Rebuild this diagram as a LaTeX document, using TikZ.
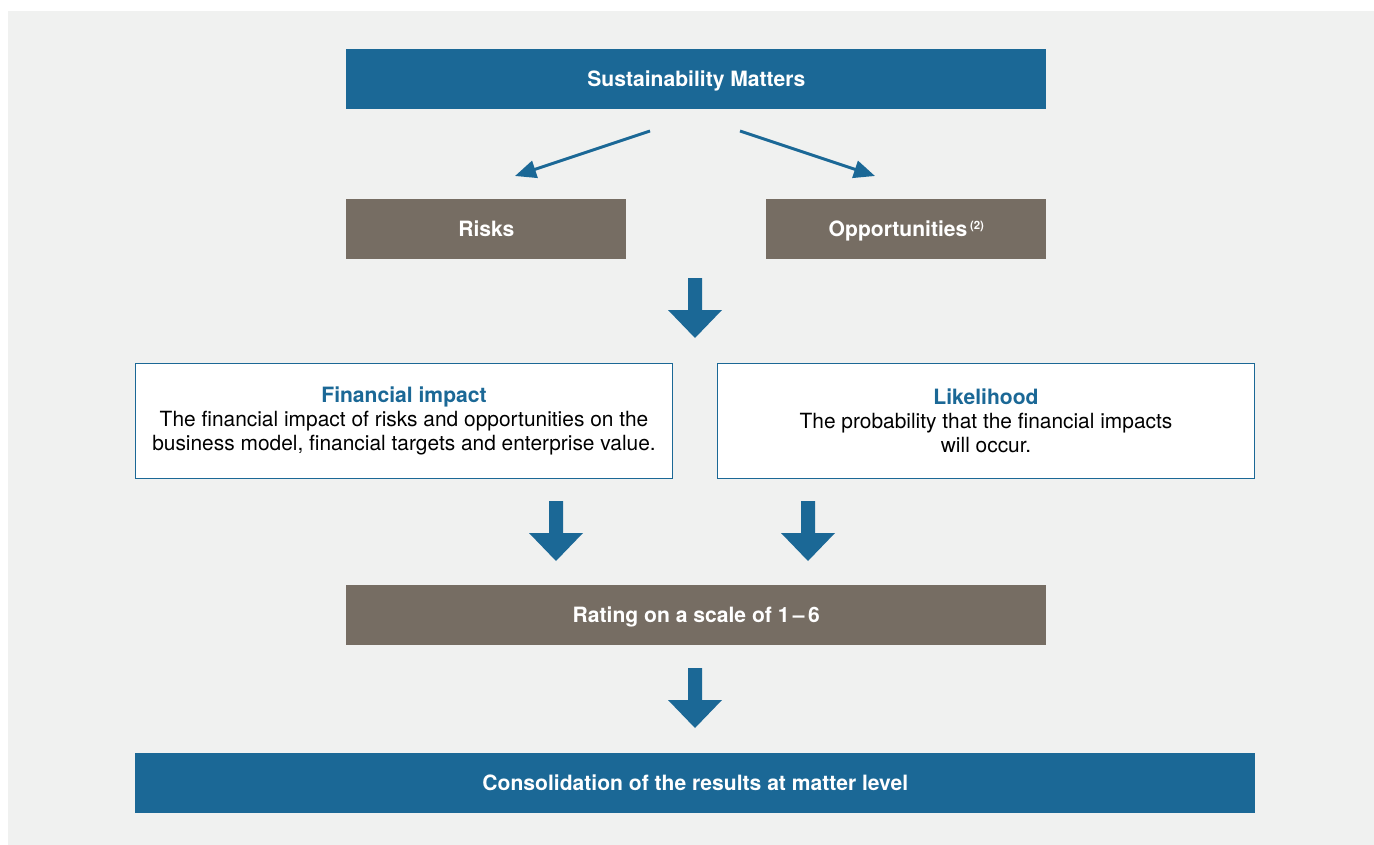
\documentclass[tikz,border=0pt]{standalone}
\usepackage{fontspec}
\setmainfont{TeX Gyre Heros}
\usetikzlibrary{positioning, arrows.meta}
\definecolor{matterblue}{HTML}{1B6896}
\definecolor{rowbrown}{HTML}{766D63}
\definecolor{panelgray}{HTML}{F0F1F0}
\newcommand{\pxu}{0.02cm} % one pixel of the layout
\tikzset{
x=\pxu, y=-\pxu, % coordinates are in pixels
bluebox/.style={fill=matterblue, text=white, font=\bfseries\fontsize{12}{14}\selectfont, text height=8.6pt, text depth=0pt, minimum height=60*\pxu, anchor=north west}, % dark blue bars
brownbox/.style={bluebox, fill=rowbrown}, % brown bars
textbox/.style={fill=white, draw=matterblue, line width=0.6pt, minimum width=537*\pxu, minimum height=115*\pxu, anchor=north west, align=center, font=\fontsize{11.9}{13.6}\selectfont}, % framed boxes
thinarrow/.style={draw=matterblue, line width=1.7pt, -{Triangle[length=12pt, width=10pt]}}, % slanted arrows
pics/downarrow/.style={code={\fill[matterblue] (-7,0) -- (7,0) -- (7,32) -- (27,32) -- (0,60) -- (-27,32) -- (-7,32) -- cycle;}}, % block arrows
}
\begin{document}
\begin{tikzpicture}
  \useasboundingbox (0,0) rectangle (1374,845);
  \fill[panelgray] (8,11) rectangle (1374,845);
  \node[bluebox, minimum width=700*\pxu] (matters) at (346,49) {Sustainability Matters};
  \node[brownbox, minimum width=280*\pxu] (risks) at (346,199) {Risks};
  \node[brownbox, minimum width=280*\pxu] (opps) at (766,199) {Opportunities\hspace{1.5pt}\raisebox{4.5pt}{\fontsize{6.5}{7}\selectfont (2)}};
  \coordinate (fromL) at (650,131);
  \coordinate (fromR) at (740,131);
  \coordinate (toL) at (515,176);
  \coordinate (toR) at (875,176);
  \draw[thinarrow] (fromL) -- (toL);
  \draw[thinarrow] (fromR) -- (toR);
  \pic at (695,278) {downarrow};
  \node[textbox] (impact) at (135,363) {{\bfseries\color{matterblue}\fontsize{12}{13.6}\selectfont Financial impact}\\The financial impact of risks and opportunities on the\\business model, financial targets and enterprise value.};
  \node[textbox] (likely) at (717,363) {{\bfseries\color{matterblue}\fontsize{12}{13.6}\selectfont Likelihood}\\The probability that the financial impacts\\will occur.};
  \pic at (556,501) {downarrow};
  \pic at (808,501) {downarrow};
  \node[brownbox, minimum width=700*\pxu] (rating) at (346,585) {Rating on a scale of 1\,--\,6};
  \pic at (695,668) {downarrow};
  \node[bluebox, minimum width=1120*\pxu] (consol) at (135,753) {Consolidation of the results at matter level};
\end{tikzpicture}
\end{document}
